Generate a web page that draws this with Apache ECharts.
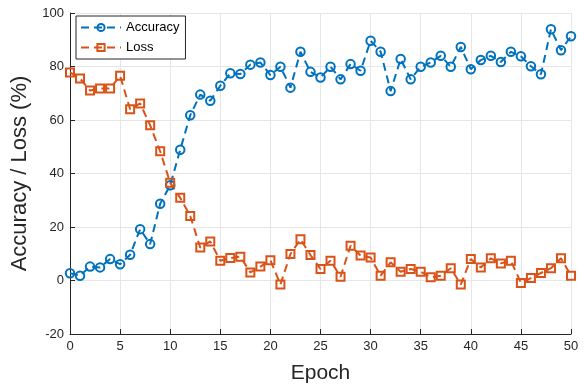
<!DOCTYPE html>
<html>
<head>
<meta charset="utf-8">
<script src="https://cdn.jsdelivr.net/npm/echarts@6/dist/echarts.min.js"></script>
<style>
  html, body { margin: 0; padding: 0; background: #fff; }
  #chart { width: 586px; height: 389px; }
</style>
</head>
<body>
<div id="chart"></div>
<script>
// Training curves per epoch
const epochs = Array.from({ length: 51 }, (_, i) => i);
const accuracy = [
  2.7, 1.8, 5.2, 4.9, 8.0, 6.1, 9.6, 19.2, 13.6, 28.7,
  35.6, 48.9, 61.8, 69.5, 67.2, 72.8, 77.5, 77.2, 80.7, 81.5,
  76.8, 79.9, 72.1, 85.5, 78.0, 75.9, 79.9, 75.2, 80.9, 78.4,
  89.6, 85.5, 70.8, 82.8, 75.2, 79.9, 81.5, 84.0, 79.9, 87.3,
  79.0, 82.4, 84.0, 81.7, 85.5, 83.8, 80.1, 77.1, 93.9, 86.1,
  91.3
];
const loss = [
  77.8, 75.5, 71.0, 71.8, 71.8, 76.5, 64.0, 66.2, 58.0, 48.3,
  36.5, 30.9, 24.1, 12.3, 14.6, 7.4, 8.4, 8.9, 3.0, 5.2,
  7.6, -1.5, 9.9, 15.4, 9.5, 4.3, 7.4, 1.4, 13.0, 9.3,
  8.6, 1.8, 6.8, 3.3, 4.3, 3.3, 1.2, 1.8, 4.6, -1.5,
  8.0, 4.9, 8.3, 6.4, 7.4, -0.9, 0.9, 2.8, 4.6, 8.3,
  1.8
];
const xTicks = [0, 5, 10, 15, 20, 25, 30, 35, 40, 45, 50];
const yTicks = [-20, 0, 20, 40, 60, 80, 100];

const BLUE = '#0072BD';
const ORANGE = '#D95319';
const AXIS = '#262626';
const FONT = 'Liberation Sans, Arial, sans-serif';

const chart = echarts.init(document.getElementById('chart'), null, { renderer: 'canvas' });

function makeSeries(name, values, color, symbol, size) {
  return {
    name: name,
    type: 'line',
    data: epochs.map((e, i) => [e, values[i]]),
    symbol: symbol,
    symbolSize: size,
    showAllSymbol: true,
    lineStyle: { color: color, width: 2, type: [8, 5] },
    itemStyle: { color: 'rgba(255,255,255,0)', borderColor: color, borderWidth: 2 },
    emphasis: { disabled: true },
    animation: false,
    z: 3
  };
}

chart.setOption({
  animation: false,
  backgroundColor: '#ffffff',
  grid: { left: 70, right: 15, top: 13, bottom: 52, containLabel: false },
  legend: {
    left: 76,
    top: 16,
    orient: 'vertical',
    itemWidth: 40,
    itemHeight: 9,
    itemGap: 7,
    padding: [5, 6, 5, 4],
    borderColor: AXIS,
    borderWidth: 1,
    backgroundColor: '#fff',
    textStyle: { fontFamily: FONT, fontSize: 13, color: '#000' },
    data: ['Accuracy', 'Loss']
  },
  xAxis: {
    type: 'value',
    min: 0,
    max: 50,
    interval: 5,
    name: 'Epoch',
    nameLocation: 'middle',
    nameGap: 29,
    nameTextStyle: { fontFamily: FONT, fontSize: 21, color: AXIS },
    axisLine: { show: true, onZero: false, lineStyle: { color: AXIS, width: 1 } },
    axisTick: { show: true, inside: true, length: 5, lineStyle: { color: AXIS } },
    axisLabel: {
      fontFamily: FONT, fontSize: 13, color: AXIS, margin: 6,
      formatter: v => (xTicks.includes(v) ? String(v) : '')
    },
    splitLine: { show: true, lineStyle: { color: '#e6e6e6', width: 1 } }
  },
  yAxis: {
    type: 'value',
    min: -20,
    max: 100,
    interval: 20,
    name: 'Accuracy / Loss (%)',
    nameLocation: 'middle',
    nameGap: 33,
    nameTextStyle: { fontFamily: FONT, fontSize: 22, color: AXIS },
    axisLine: { show: true, onZero: false, lineStyle: { color: AXIS, width: 1 } },
    axisTick: { show: true, inside: true, length: 5, lineStyle: { color: AXIS } },
    axisLabel: {
      fontFamily: FONT, fontSize: 13, color: AXIS, margin: 6,
      formatter: v => (yTicks.includes(v) ? String(v) : '')
    },
    splitLine: { show: true, lineStyle: { color: '#e6e6e6', width: 1 } }
  },
  series: [
    makeSeries('Accuracy', accuracy, BLUE, 'circle', 8.5),
    makeSeries('Loss', loss, ORANGE, 'rect', 8)
  ]
});
</script>
</body>
</html>
